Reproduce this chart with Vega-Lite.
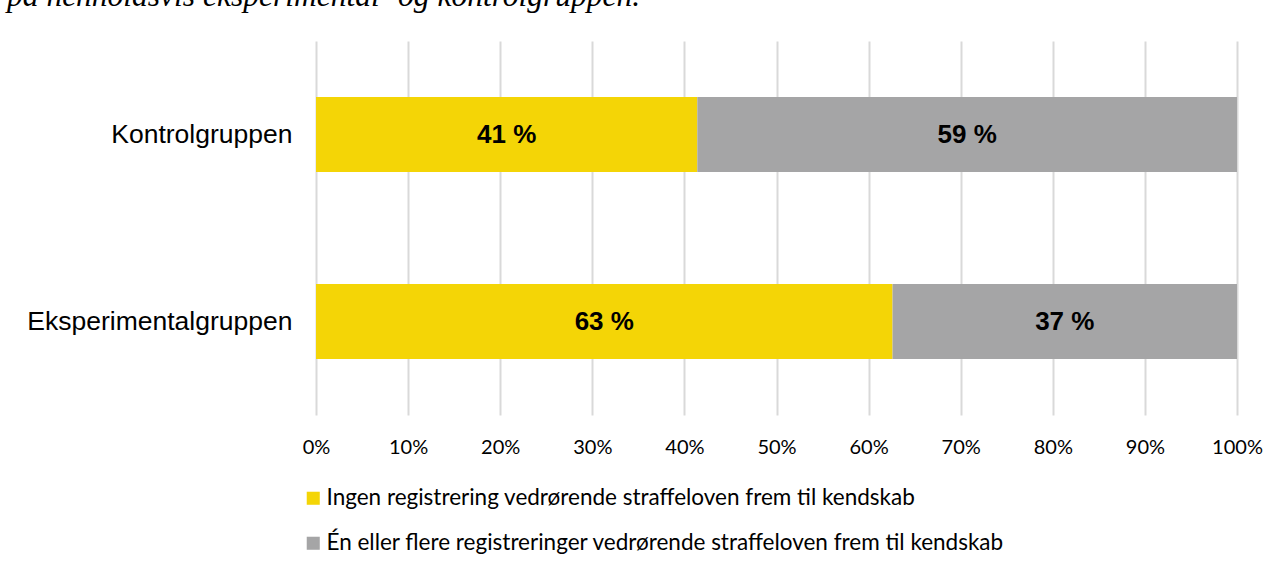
{
  "$schema": "https://vega.github.io/schema/vega-lite/v6.json",
  "autosize": {"type": "none"},
  "width": 921,
  "height": 374,
  "padding": {"left": 316, "top": 41, "right": 45, "bottom": 157},
  "background": "white",
  "title": {
    "text": "på henholdsvis eksperimental- og kontrolgruppen.",
    "anchor": "start",
    "frame": "group",
    "font": "Liberation Serif",
    "fontStyle": "italic",
    "fontWeight": "normal",
    "fontSize": 31.5,
    "color": "#000000",
    "baseline": "alphabetic",
    "offset": 0,
    "dx": -309,
    "dy": -4
  },
  "data": {
    "values": [
      {"group": "Kontrolgruppen", "category": "Ingen registrering vedrørende straffeloven frem til kendskab", "value": 0.414},
      {"group": "Kontrolgruppen", "category": "Én eller flere registreringer vedrørende straffeloven frem til kendskab", "value": 0.586},
      {"group": "Eksperimentalgruppen", "category": "Ingen registrering vedrørende straffeloven frem til kendskab", "value": 0.626},
      {"group": "Eksperimentalgruppen", "category": "Én eller flere registreringer vedrørende straffeloven frem til kendskab", "value": 0.374}
    ]
  },
  "transform": [
    {"stack": "value", "groupby": ["group"], "sort": [{"field": "category", "order": "ascending"}], "as": ["x0", "x1"]},
    {"calculate": "(datum.x0 + datum.x1) / 2", "as": "mid"},
    {"calculate": "replace(format(datum.value, '.0%'), '%', ' %')", "as": "label"}
  ],
  "encoding": {
    "y": {
      "field": "group",
      "type": "nominal",
      "sort": ["Kontrolgruppen", "Eksperimentalgruppen"],
      "scale": {"paddingInner": 0.6, "paddingOuter": 0.3},
      "axis": {
        "title": null,
        "labelFont": "Liberation Sans",
        "labelFontSize": 26.5,
        "labelColor": "#000000",
        "labelPadding": 24,
        "labelLimit": 1000,
        "ticks": false,
        "domain": false,
        "grid": false
      }
    }
  },
  "layer": [
    {
      "mark": {"type": "bar"},
      "encoding": {
        "x": {
          "field": "x0",
          "type": "quantitative",
          "scale": {"domain": [0, 1], "nice": false},
          "axis": {
            "title": null,
            "format": ".0%",
            "values": [0, 0.1, 0.2, 0.3, 0.4, 0.5, 0.6, 0.7, 0.8, 0.9, 1],
            "grid": true,
            "gridColor": "#d9d9d9",
            "gridWidth": 2,
            "ticks": false,
            "domain": false,
            "labelFont": "Lato",
            "labelFontSize": 20,
            "labelColor": "#000000",
            "labelPadding": 22,
            "labelFlush": false
          }
        },
        "x2": {"field": "x1"},
        "color": {
          "field": "category",
          "type": "nominal",
          "scale": {
            "domain": ["Ingen registrering vedrørende straffeloven frem til kendskab", "Én eller flere registreringer vedrørende straffeloven frem til kendskab"],
            "range": ["#F4D506", "#A5A5A6"]
          },
          "legend": {
            "orient": "none",
            "legendX": -14,
            "legendY": 446,
            "direction": "vertical",
            "title": null,
            "symbolType": "square",
            "symbolSize": 170,
            "symbolStrokeWidth": 0,
            "labelFont": "Lato",
            "labelFontSize": 22.5,
            "labelColor": "#000000",
            "labelOffset": 2,
            "labelLimit": 1000,
            "rowPadding": 22,
            "padding": 0
          }
        }
      }
    },
    {
      "mark": {"type": "text", "font": "Liberation Sans", "fontWeight": "bold", "fontSize": 26, "color": "#000000", "baseline": "middle", "align": "center"},
      "encoding": {
        "x": {"field": "mid", "type": "quantitative"},
        "text": {"field": "label", "type": "nominal"}
      }
    }
  ],
  "config": {
    "view": {"stroke": null}
  }
}
